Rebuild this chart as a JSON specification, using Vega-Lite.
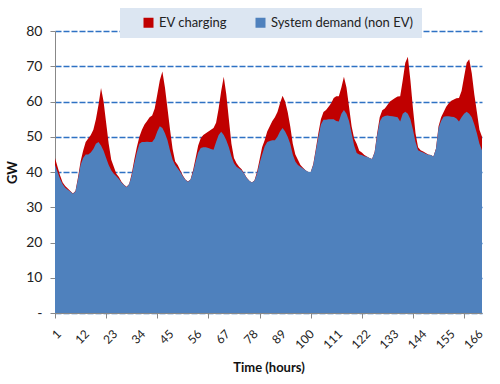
{
  "$schema": "https://vega.github.io/schema/vega-lite/v6.json",
  "autosize": {"type": "none"},
  "width": 427,
  "height": 282,
  "padding": {"left": 55, "top": 31, "right": 18, "bottom": 71},
  "background": "white",
  "config": {
    "view": {"stroke": null},
    "font": "Lato",
    "axis": {"labelFont": "Lato", "titleFont": "Lato", "labelColor": "#222", "titleColor": "#111"}
  },
  "data": {"values": [
    {"h":1,"base":42,"total":44},{"h":2,"base":40,"total":41.5},{"h":3,"base":38,"total":39},{"h":4,"base":36.5,"total":37},
    {"h":5,"base":35.5,"total":36},{"h":6,"base":35,"total":35.3},{"h":7,"base":34.5,"total":34.6},{"h":8,"base":33.8,"total":33.9},
    {"h":9,"base":34.5,"total":34.6},{"h":10,"base":38,"total":38.5},{"h":11,"base":42,"total":43},{"h":12,"base":44,"total":46},
    {"h":13,"base":45,"total":48.5},{"h":14,"base":45,"total":49.5},{"h":15,"base":45.5,"total":50.5},{"h":16,"base":46.5,"total":52},
    {"h":17,"base":48,"total":55},{"h":18,"base":48.5,"total":59},{"h":19,"base":47.5,"total":63.8},{"h":20,"base":46,"total":60},
    {"h":21,"base":44,"total":54},{"h":22,"base":42,"total":48},{"h":23,"base":40.5,"total":43.5},{"h":24,"base":39.5,"total":41.5},
    {"h":25,"base":38.8,"total":39.5},{"h":26,"base":38,"total":38.6},{"h":27,"base":37,"total":37.2},{"h":28,"base":36.3,"total":36.4},
    {"h":29,"base":35.7,"total":35.8},{"h":30,"base":36.5,"total":36.6},{"h":31,"base":39,"total":39.5},{"h":32,"base":42.5,"total":43.5},
    {"h":33,"base":45.5,"total":47},{"h":34,"base":48,"total":50},{"h":35,"base":48.5,"total":52},{"h":36,"base":48.5,"total":53.5},
    {"h":37,"base":48.6,"total":54.5},{"h":38,"base":48.5,"total":55.5},{"h":39,"base":48.5,"total":56},{"h":40,"base":49.5,"total":58},
    {"h":41,"base":51.5,"total":62},{"h":42,"base":53,"total":66},{"h":43,"base":52.5,"total":68.5},{"h":44,"base":51,"total":64},
    {"h":45,"base":49,"total":58},{"h":46,"base":46,"total":52},{"h":47,"base":43.5,"total":46.5},{"h":48,"base":42,"total":43},
    {"h":49,"base":41,"total":42},{"h":50,"base":40,"total":40.5},{"h":51,"base":38.8,"total":39},{"h":52,"base":37.8,"total":37.9},
    {"h":53,"base":37.2,"total":37.3},{"h":54,"base":37.8,"total":37.9},{"h":55,"base":40,"total":40.5},{"h":56,"base":43,"total":44},
    {"h":57,"base":45.5,"total":47.5},{"h":58,"base":46.8,"total":49.6},{"h":59,"base":47,"total":50.5},{"h":60,"base":47,"total":51},
    {"h":61,"base":46.8,"total":51.5},{"h":62,"base":46.5,"total":52},{"h":63,"base":46.3,"total":52.5},{"h":64,"base":48.5,"total":54},
    {"h":65,"base":50.5,"total":58},{"h":66,"base":51.4,"total":63},{"h":67,"base":50.5,"total":67},{"h":68,"base":49,"total":62},
    {"h":69,"base":47,"total":55},{"h":70,"base":44.5,"total":48},{"h":71,"base":42.5,"total":44},{"h":72,"base":41.5,"total":42.5},
    {"h":73,"base":41,"total":41.5},{"h":74,"base":40.5,"total":40.8},{"h":75,"base":39.5,"total":39.6},{"h":76,"base":38.3,"total":38.4},
    {"h":77,"base":37.5,"total":37.5},{"h":78,"base":37,"total":37},{"h":79,"base":37.5,"total":37.6},{"h":80,"base":39.5,"total":40},
    {"h":81,"base":42.5,"total":43.5},{"h":82,"base":45,"total":47},{"h":83,"base":47.2,"total":49},{"h":84,"base":48.5,"total":51.5},
    {"h":85,"base":48.8,"total":53},{"h":86,"base":49,"total":54.5},{"h":87,"base":49,"total":55.5},{"h":88,"base":50,"total":57},
    {"h":89,"base":51.5,"total":59.5},{"h":90,"base":52.5,"total":61.6},{"h":91,"base":51.5,"total":60},{"h":92,"base":50,"total":57},
    {"h":93,"base":48,"total":53},{"h":94,"base":45,"total":48},{"h":95,"base":43,"total":45},{"h":96,"base":42,"total":43.5},
    {"h":97,"base":41.5,"total":42},{"h":98,"base":41,"total":41.2},{"h":99,"base":40.5,"total":40.5},{"h":100,"base":40,"total":40},
    {"h":101,"base":40,"total":40},{"h":102,"base":42,"total":42.2},{"h":103,"base":46,"total":46.5},{"h":104,"base":50,"total":51},
    {"h":105,"base":53.5,"total":55},{"h":106,"base":54.8,"total":57},{"h":107,"base":54.8,"total":57.6},{"h":108,"base":55,"total":58.5},
    {"h":109,"base":55,"total":59.5},{"h":110,"base":55,"total":61},{"h":111,"base":54.5,"total":61.5},{"h":112,"base":54.3,"total":61.5},
    {"h":113,"base":56.5,"total":64},{"h":114,"base":57.6,"total":67},{"h":115,"base":56.5,"total":64},{"h":116,"base":54.5,"total":58.5},
    {"h":117,"base":51,"total":53},{"h":118,"base":47.5,"total":49.5},{"h":119,"base":45.4,"total":48},{"h":120,"base":45,"total":46},
    {"h":121,"base":44.8,"total":45.5},{"h":122,"base":44.5,"total":44.8},{"h":123,"base":44.3,"total":44.4},{"h":124,"base":44,"total":44},
    {"h":125,"base":43.7,"total":43.7},{"h":126,"base":45.5,"total":45.7},{"h":127,"base":50.5,"total":51},{"h":128,"base":54.3,"total":55.5},
    {"h":129,"base":55.5,"total":57.5},{"h":130,"base":55.9,"total":58},{"h":131,"base":56,"total":59},{"h":132,"base":55.9,"total":60},
    {"h":133,"base":55.8,"total":60.5},{"h":134,"base":55.7,"total":61},{"h":135,"base":55.5,"total":61.4},{"h":136,"base":54.3,"total":61.5},
    {"h":137,"base":56.5,"total":66},{"h":138,"base":57.1,"total":71},{"h":139,"base":56.5,"total":72.7},{"h":140,"base":55,"total":66},
    {"h":141,"base":52,"total":58},{"h":142,"base":48.5,"total":51},{"h":143,"base":46.2,"total":47},{"h":144,"base":45.8,"total":46.2},
    {"h":145,"base":45.5,"total":45.8},{"h":146,"base":45.2,"total":45.4},{"h":147,"base":44.9,"total":45},{"h":148,"base":44.8,"total":44.8},
    {"h":149,"base":44.4,"total":44.4},{"h":150,"base":46.5,"total":46.7},{"h":151,"base":52.5,"total":53},{"h":152,"base":54.5,"total":55.5},
    {"h":153,"base":55.7,"total":57},{"h":154,"base":55.8,"total":58.5},{"h":155,"base":55.8,"total":59.5},{"h":156,"base":55.7,"total":60.2},
    {"h":157,"base":55.6,"total":60.6},{"h":158,"base":55.2,"total":60.9},{"h":159,"base":54.3,"total":61},{"h":160,"base":55.5,"total":63},
    {"h":161,"base":56.5,"total":67},{"h":162,"base":57.1,"total":71},{"h":163,"base":56.5,"total":72},{"h":164,"base":55.5,"total":68},
    {"h":165,"base":53.5,"total":62},{"h":166,"base":51,"total":57},{"h":167,"base":48,"total":52},{"h":168,"base":46.2,"total":50}
  ]},
  "layer": [
    {
      "mark": {"type": "area", "opacity": 1},
      "encoding": {
        "x": {"field": "h", "type": "quantitative", "scale": {"domain": [1, 168], "nice": false, "zero": false},
          "axis": {"orient": "bottom", "values": [1,12,23,34,45,56,67,78,89,100,111,122,133,144,155,166], "labelAngle": -45, "labelFontSize": 12, "labelPadding": 15, "ticks": false, "domain": true, "domainColor": "#888", "grid": false, "title": "Time (hours)", "titleFontSize": 13, "titleFontWeight": "bold", "titlePadding": 11}},
        "y": {"field": "total", "type": "quantitative",
          "scale": {"domain": [0, 80], "nice": false},
          "axis": {"values": [0,10,20,30,40,50,60,70,80], "labelOverlap": false, "labelExpr": "datum.value == 0 ? '-' : datum.label", "labelFontSize": 14, "labelPadding": 8, "tickSize": 5, "tickColor": "#888", "domainColor": "#888", "grid": true, "gridColor": "#2f72c4", "gridWidth": 1.5, "gridDash": [6, 2], "title": "GW", "titleFontSize": 13, "titleFontWeight": "bold", "titlePadding": 6}},
        "color": {"datum": "EV charging", "type": "nominal",
          "scale": {"domain": ["EV charging", "System demand (non EV)"], "range": ["#c00000", "#4f81bd"]},
          "legend": {"title": null, "orient": "none", "legendX": 65, "legendY": -23, "direction": "horizontal", "fillColor": "#dce6f2", "padding": 8, "symbolType": "square", "symbolSize": 100, "symbolStrokeWidth": 0, "symbolOffset": 14, "labelFontSize": 13, "labelFont": "Lato", "labelColor": "#222", "columnPadding": 12}}
      }
    },
    {
      "mark": {"type": "area", "opacity": 1},
      "encoding": {
        "x": {"field": "h", "type": "quantitative", "scale": {"domain": [1, 168], "nice": false, "zero": false},
          "axis": {"orient": "bottom", "values": [1,21,41,61,81,101,121,141,161], "labels": false, "ticks": true, "tickSize": 5, "tickColor": "#888", "domain": false, "grid": false, "title": null}},
        "y": {"field": "base", "type": "quantitative", "scale": {"domain": [0, 80], "nice": false},
          "axis": {"values": [0,10,20,30,40,50,60,70,80], "labelOverlap": false, "labelExpr": "datum.value == 0 ? '-' : datum.label", "labelFontSize": 14, "labelPadding": 8, "tickSize": 5, "tickColor": "#888", "domainColor": "#888", "grid": true, "gridColor": "#2f72c4", "gridWidth": 1.5, "gridDash": [6, 2], "title": "GW", "titleFontSize": 13, "titleFontWeight": "bold", "titlePadding": 6}},
        "color": {"datum": "System demand (non EV)", "type": "nominal"}
      }
    }
  ],
  "resolve": {"axis": {"x": "independent"}}
}
